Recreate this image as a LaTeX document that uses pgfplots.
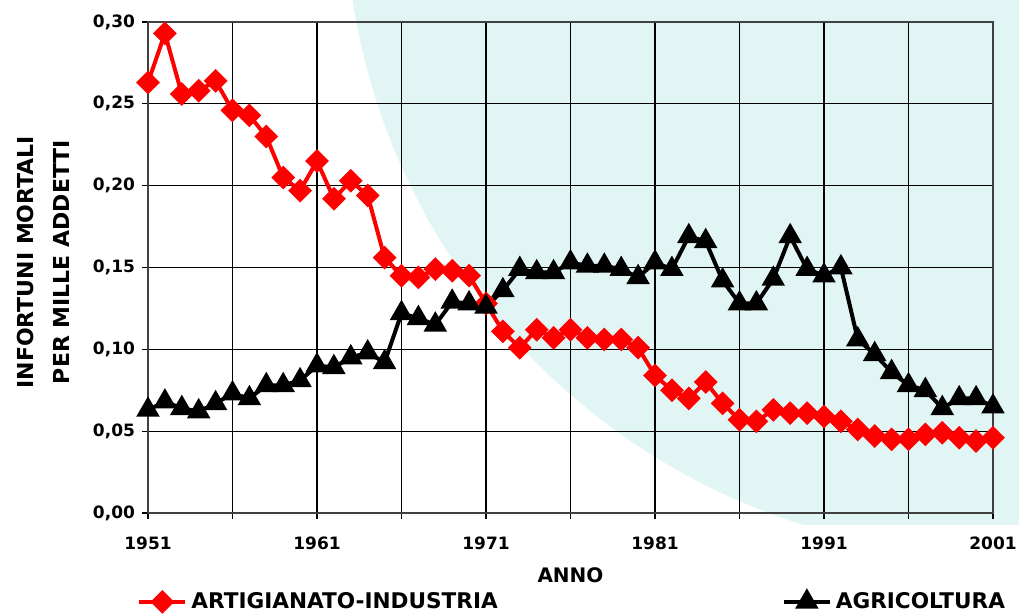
\documentclass[border=0pt]{standalone}
\usepackage{pgfplots}
\pgfplotsset{compat=1.18}
\usepackage{pgfplotstable}
\usepackage{fontspec}
\setmainfont{DejaVu Sans}
\definecolor{wm}{HTML}{E2F5F5}
\definecolor{myred}{HTML}{FF0000}

\pgfplotstableread{
year ind agr
1951 0.263 0.063
1952 0.293 0.068
1953 0.256 0.064
1954 0.258 0.062
1955 0.264 0.067
1956 0.246 0.073
1957 0.243 0.070
1958 0.230 0.078
1959 0.205 0.078
1960 0.197 0.081
1961 0.215 0.090
1962 0.192 0.089
1963 0.203 0.095
1964 0.194 0.098
1965 0.156 0.092
1966 0.145 0.122
1967 0.144 0.119
1968 0.149 0.115
1969 0.148 0.129
1970 0.145 0.128
1971 0.128 0.126
1972 0.111 0.136
1973 0.101 0.149
1974 0.112 0.147
1975 0.107 0.147
1976 0.112 0.153
1977 0.107 0.151
1978 0.106 0.151
1979 0.106 0.149
1980 0.101 0.144
1981 0.084 0.153
1982 0.075 0.149
1983 0.070 0.169
1984 0.080 0.166
1985 0.067 0.142
1986 0.057 0.128
1987 0.056 0.128
1988 0.063 0.143
1989 0.061 0.169
1990 0.061 0.149
1991 0.059 0.145
1992 0.056 0.150
1993 0.051 0.106
1994 0.047 0.097
1995 0.045 0.086
1996 0.045 0.078
1997 0.048 0.075
1998 0.049 0.064
1999 0.046 0.070
2000 0.044 0.070
2001 0.046 0.065
}\data

\begin{document}
\begin{tikzpicture}
\path[use as bounding box] (-74pt,-50.5pt) rectangle (435.5pt,256.5pt);
\begin{scope}
\clip (-74pt,-6pt) rectangle (435.5pt,256.5pt);
\fill[wm] (426pt,306.5pt) circle[radius=327.5pt];
\end{scope}
\begin{axis}[
  scale only axis, width=422.5pt, height=245.5pt,
  xmin=1951, xmax=2001, ymin=0, ymax=0.30,
  xtick={1951,1956,...,2001},
  xticklabels={1951,,1961,,1971,,1981,,1991,,2001},
  ytick={0,0.05,0.10,0.15,0.20,0.25,0.30},
  yticklabels={{0,00},{0,05},{0,10},{0,15},{0,20},{0,25},{0,30}},
  xtick pos=left, ytick pos=left,
  tick align=outside, major tick length=3pt,
  tick style={black, line width=0.6pt},
  xmajorgrids, ymajorgrids, grid style={black, line width=0.6pt},
  axis line style={draw=black!75, line width=1pt},
  ticklabel style={font=\bfseries\fontsize{8.5}{10}\selectfont},
  xticklabel style={yshift=-5.5pt},
  clip=false,
  legend columns=2,
  legend style={draw=none, fill=none, at={(axis description cs:-0.013,-0.181)}, anchor=west,
    font=\bfseries\fontsize{10.8}{12}\selectfont, inner sep=0pt,
    /tikz/every even column/.append style={column sep=140pt}},
  legend image code/.code={\draw[mark repeat=2, mark phase=2, #1] plot coordinates {(0pt,0pt) (11.5pt,0pt) (23pt,0pt)};},
]
\addplot[myred, line width=2pt, mark=square*, mark size=3.2pt, mark options={rotate=45, solid}] table[x=year, y=ind] {\data};
\addlegendentry{ARTIGIANATO-INDUSTRIA}
\addplot[black, line width=2pt, mark=triangle*, mark size=4.8pt, mark options={solid}] table[x=year, y=agr] {\data};
\addlegendentry{AGRICOLTURA}
\node[font=\bfseries\fontsize{10}{12}\selectfont] at (axis description cs:0.5,-0.126) {ANNO};
\node[rotate=90, align=center, font=\bfseries\fontsize{11}{18}\selectfont] at (axis description cs:-0.124,0.511) {INFORTUNI MORTALI\\PER MILLE ADDETTI};
\end{axis}
\end{tikzpicture}
\end{document}
